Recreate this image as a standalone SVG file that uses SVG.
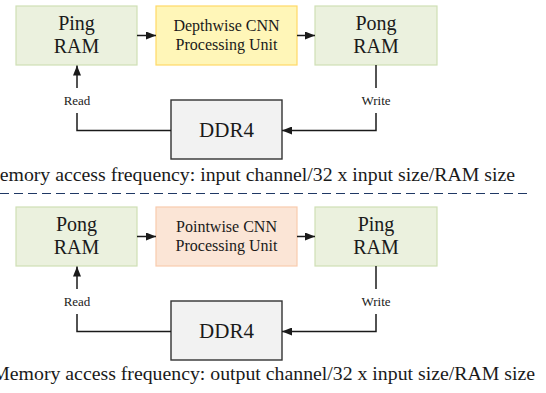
<svg xmlns="http://www.w3.org/2000/svg" width="546" height="393" viewBox="0 0 546 393">
<style>
  text { font-family: "Liberation Serif", "Times New Roman", serif; fill: #1a1a1a; }
  .ram { fill: #EBF1DE; stroke: #CFDFB5; stroke-width: 1.2; }
  .pu1 { fill: #FFF6B8; stroke: #FFD966; stroke-width: 1.2; }
  .pu2 { fill: #FBE5D6; stroke: #F8CBAD; stroke-width: 1.2; }
  .ddr { fill: #F2F2F2; stroke: #333333; stroke-width: 1.4; }
  .big { font-size: 20px; text-anchor: middle; }
  .mid { font-size: 16px; text-anchor: middle; }
  .small { font-size: 13px; text-anchor: middle; }
  .cap { font-size: 19.8px; text-anchor: end; }
  .conn { fill: none; stroke: #1a1a1a; stroke-width: 1.5; }
</style>
<defs>
  <marker id="arr" markerUnits="userSpaceOnUse" markerWidth="10" markerHeight="8" refX="10" refY="4" orient="auto">
    <path d="M0,0 L10,4 L0,8 z" fill="#1a1a1a"/>
  </marker>
</defs>

<!-- Top half -->
<g id="ping-ram-top">
  <rect class="ram" x="16" y="6" width="121" height="59"/>
  <text class="big" x="76.5" y="30">Ping</text>
  <text class="big" x="76.5" y="53">RAM</text>
</g>
<g id="depthwise-pu">
  <rect class="pu1" x="156" y="6" width="141" height="59"/>
  <text class="mid" x="226.5" y="30.5">Depthwise CNN</text>
  <text class="mid" x="226.5" y="50">Processing Unit</text>
</g>
<g id="pong-ram-top">
  <rect class="ram" x="315" y="6" width="122" height="59"/>
  <text class="big" x="376" y="30">Pong</text>
  <text class="big" x="376" y="53">RAM</text>
</g>
<g id="ddr4-top">
  <rect class="ddr" x="171" y="100" width="111" height="59"/>
  <text class="big" x="226.5" y="137" style="font-size:21px">DDR4</text>
</g>
<g id="labels-top">
  <text class="small" x="77" y="104.5">Read</text>
  <text class="small" x="376" y="104.5">Write</text>
  <text class="cap" x="515" y="181">Memory access frequency: input channel/32 x input size/RAM size</text>
</g>

<!-- Divider -->
<line x1="0" y1="193.5" x2="531" y2="193.5" stroke="#1F3864" stroke-width="1.2" stroke-dasharray="9 5"/>

<!-- Bottom half -->
<g id="pong-ram-bottom">
  <rect class="ram" x="16" y="207" width="121" height="59"/>
  <text class="big" x="76.5" y="231">Pong</text>
  <text class="big" x="76.5" y="254">RAM</text>
</g>
<g id="pointwise-pu">
  <rect class="pu2" x="156" y="207" width="141" height="59"/>
  <text class="mid" x="226.5" y="231.5">Pointwise CNN</text>
  <text class="mid" x="226.5" y="251">Processing Unit</text>
</g>
<g id="ping-ram-bottom">
  <rect class="ram" x="315" y="207" width="122" height="59"/>
  <text class="big" x="376" y="231">Ping</text>
  <text class="big" x="376" y="254">RAM</text>
</g>
<g id="ddr4-bottom">
  <rect class="ddr" x="171" y="301" width="111" height="59"/>
  <text class="big" x="226.5" y="338" style="font-size:21px">DDR4</text>
</g>
<g id="labels-bottom">
  <text class="small" x="77" y="305.5">Read</text>
  <text class="small" x="376" y="305.5">Write</text>
  <text class="cap" x="535" y="380">Memory access frequency: output channel/32 x input size/RAM size</text>
</g>

<g id="connectors">
  <!-- top -->
  <line class="conn" x1="137" y1="35.5" x2="156" y2="35.5" marker-end="url(#arr)"/>
  <line class="conn" x1="297" y1="35.5" x2="315" y2="35.5" marker-end="url(#arr)"/>
  <line class="conn" x1="77" y1="88" x2="77" y2="65.5" marker-end="url(#arr)"/>
  <path class="conn" d="M77,113 V130.5 H171"/>
  <line class="conn" x1="376" y1="65" x2="376" y2="88"/>
  <path class="conn" d="M376,113 V130.5 H282" marker-end="url(#arr)"/>
  <!-- bottom -->
  <line class="conn" x1="137" y1="236.5" x2="156" y2="236.5" marker-end="url(#arr)"/>
  <line class="conn" x1="297" y1="236.5" x2="315" y2="236.5" marker-end="url(#arr)"/>
  <line class="conn" x1="77" y1="289" x2="77" y2="266.5" marker-end="url(#arr)"/>
  <path class="conn" d="M77,314 V331.5 H171"/>
  <line class="conn" x1="376" y1="266" x2="376" y2="289"/>
  <path class="conn" d="M376,314 V331.5 H282" marker-end="url(#arr)"/>
</g>
</svg>
